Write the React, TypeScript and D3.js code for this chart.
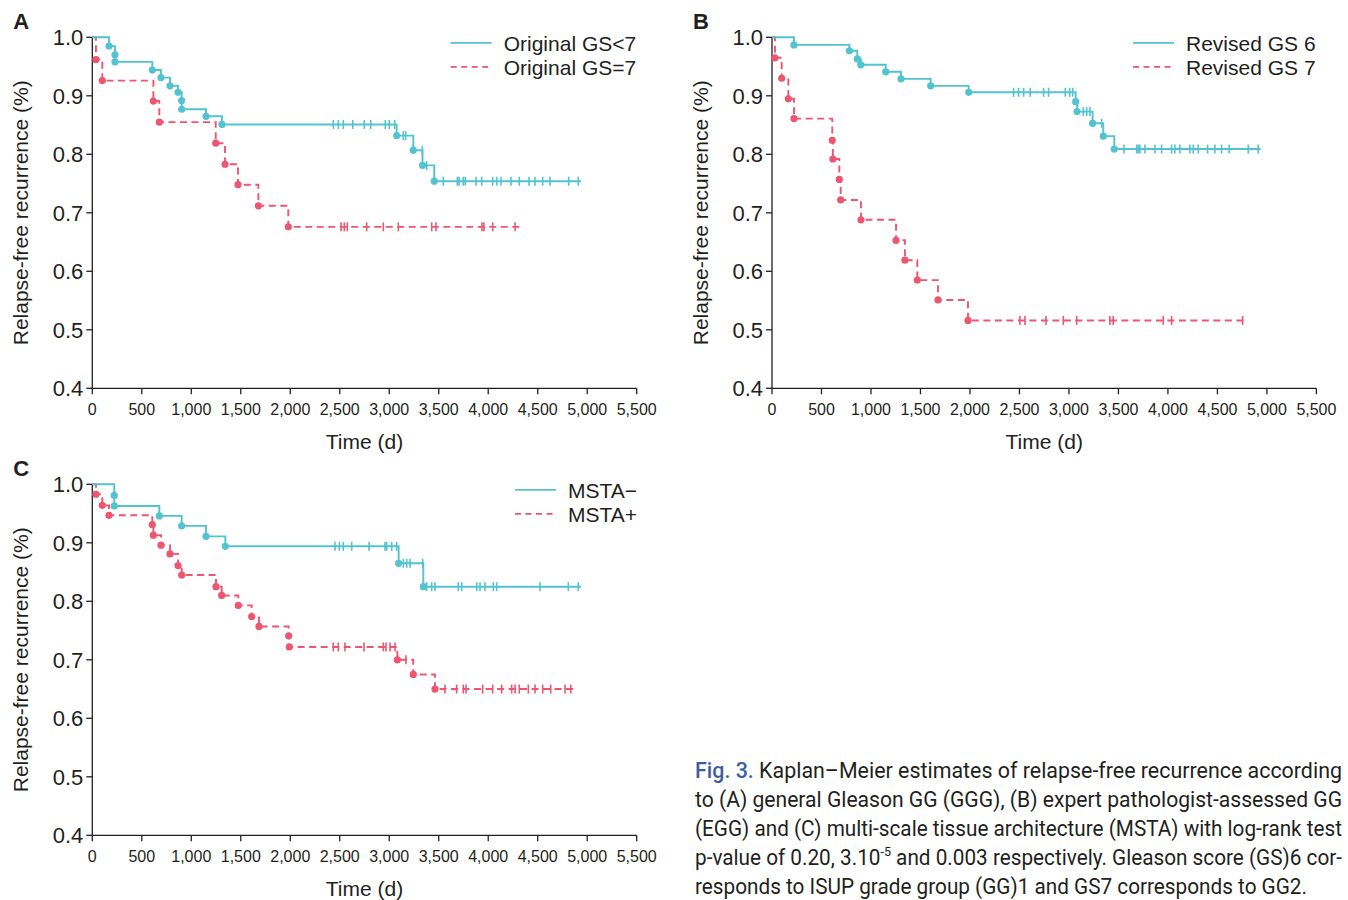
import React from "react";
import * as d3 from "d3";

// ---------- data ----------
const X_TICKS = [0, 500, 1000, 1500, 2000, 2500, 3000, 3500, 4000, 4500, 5000, 5500];
const Y_TICKS = [0.4, 0.5, 0.6, 0.7, 0.8, 0.9, 1.0];

// Panel A
const A_TEAL_EVENT_T = [169, 229, 229, 606, 694, 785, 866, 903, 903, 1149, 1310, 3075, 3243, 3336, 3455];
const A_TEAL_EVENT_S = [0.985, 0.970, 0.958, 0.944, 0.931, 0.917, 0.906, 0.892, 0.877, 0.865, 0.851, 0.832, 0.807, 0.781, 0.754];
const A_TEAL_CENSOR = [2435, 2485, 2536, 2631, 2748, 2813, 2960, 3000, 3055, 3142, 3166, 3334, 3378, 3546, 3688, 3705, 3748, 3768, 3877, 3934, 4045, 4086, 4129, 4230, 4314, 4412, 4472, 4550, 4624, 4813, 4910];
const A_TEAL_END = 4937;
const A_RED_EVENT_T = [37, 101, 617, 677, 1247, 1341, 1472, 1678, 1980];
const A_RED_EVENT_S = [0.962, 0.926, 0.891, 0.855, 0.819, 0.783, 0.748, 0.712, 0.676];
const A_RED_CENSOR = [2513, 2546, 2576, 2772, 2940, 3092, 3429, 3472, 3937, 3957, 4045, 4271];
const A_RED_END = 4314;
const A_LEGEND = ["Original GS<7", "Original GS=7"];

// Panel B
const B_TEAL_EVENT_T = [222, 782, 862, 897, 1149, 1303, 1603, 1987, 3068, 3082, 3239, 3347, 3458];
const B_TEAL_EVENT_S = [0.987, 0.977, 0.963, 0.953, 0.941, 0.929, 0.917, 0.906, 0.890, 0.873, 0.853, 0.831, 0.809];
const B_TEAL_CENSOR = [2441, 2491, 2542, 2609, 2744, 2794, 2963, 3008, 3038, 3145, 3179, 3212, 3330, 3556, 3684, 3700, 3717, 3768, 3869, 3936, 4037, 4071, 4121, 4222, 4256, 4306, 4401, 4475, 4542, 4619, 4811, 4912];
const B_TEAL_END = 4936;
const B_RED_EVENT_T = [30, 98, 165, 222, 609, 615, 680, 694, 899, 1253, 1343, 1468, 1677, 1980];
const B_RED_EVENT_S = [0.965, 0.930, 0.895, 0.861, 0.824, 0.792, 0.757, 0.722, 0.688, 0.653, 0.619, 0.585, 0.551, 0.516];
const B_RED_CENSOR = [2505, 2556, 2768, 2943, 3078, 3414, 3447, 3953, 4037, 4755];
const B_RED_END = 4795;
const B_LEGEND = ["Revised GS 6", "Revised GS 7"];

// Panel C
const C_TEAL_EVENT_T = [222, 222, 677, 903, 1149, 1344, 3095, 3344];
const C_TEAL_EVENT_S = [0.981, 0.963, 0.946, 0.929, 0.911, 0.894, 0.865, 0.825];
const C_TEAL_CENSOR = [2452, 2496, 2536, 2621, 2796, 2957, 2974, 3025, 3075, 3142, 3176, 3210, 3338, 3378, 3429, 3462, 3698, 3732, 3884, 3917, 3967, 4051, 4085, 4523, 4809, 4910];
const C_TEAL_END = 4937;
const C_RED_EVENT_T = [37, 101, 169, 606, 617, 694, 785, 866, 903, 1250, 1307, 1475, 1610, 1684, 1984, 1990, 3082, 3243, 3462];
const C_RED_EVENT_S = [0.983, 0.964, 0.947, 0.931, 0.913, 0.896, 0.881, 0.861, 0.845, 0.825, 0.810, 0.793, 0.774, 0.757, 0.741, 0.722, 0.700, 0.675, 0.650];
const C_RED_CENSOR = [2435, 2485, 2553, 2745, 2940, 2967, 3008, 3058, 3169, 3563, 3681, 3748, 3776, 3944, 4045, 4136, 4237, 4271, 4314, 4405, 4473, 4550, 4631, 4776, 4834];
const C_RED_END = 4860;
const C_LEGEND = ["MSTA\u2212", "MSTA+"];

const CAPTION_LINES = [
  "Kaplan\u2013Meier estimates of relapse-free recurrence according",
  "to (A) general Gleason GG (GGG), (B) expert pathologist-assessed GG",
  "(EGG) and (C) multi-scale tissue architecture (MSTA) with log-rank test",
  "p-value of 0.20, 3.10",
  "responds to ISUP grade group (GG)1 and GS7 corresponds to GG2.",
];

// ---------- style ----------
const TEAL = "#52c3cf";
const RED = "#ec5670";
const INK = "#231f20";
const FONT = "'Liberation Sans', Arial, Helvetica, sans-serif";
const PW = 544.4;
const PH = 351;
const DASH = "7,4.5";

type Series = { t: number[]; s: number[]; censor: number[]; end: number; color: string; dashed: boolean };

function survAt(ser: Series, time: number) {
  let v = 1;
  for (let i = 0; i < ser.t.length; i++) if (ser.t[i] <= time) v = ser.s[i];
  return v;
}

function Curve({ ser, x, y }: { ser: Series; x: any; y: any }) {
  const pts: [number, number][] = [[0, 1]];
  ser.t.forEach((t, i) => pts.push([t, ser.s[i]]));
  pts.push([ser.end, ser.s[ser.s.length - 1]]);
  const line = d3
    .line<[number, number]>()
    .x((d) => x(d[0]))
    .y((d) => y(d[1]))
    .curve(d3.curveStepAfter);
  return (
    <g>
      <path
        d={line(pts) || ""}
        fill="none"
        stroke={ser.color}
        strokeWidth={1.9}
        strokeDasharray={ser.dashed ? DASH : undefined}
      />
      {ser.censor.map((c, i) => {
        const cx = x(c);
        const cy = y(survAt(ser, c));
        return <line key={"c" + i} x1={cx} x2={cx} y1={cy - 4.5} y2={cy + 4.5} stroke={ser.color} strokeWidth={1.6} />;
      })}
      {ser.t.map((t, i) => (
        <circle key={"d" + i} cx={x(t)} cy={y(ser.s[i])} r={3.6} fill={ser.color} />
      ))}
    </g>
  );
}

function Panel({
  ox,
  oy,
  letter,
  teal,
  red,
  legend,
  legendX,
}: {
  ox: number;
  oy: number;
  letter: string;
  teal: Series;
  red: Series;
  legend: string[];
  legendX: number;
}) {
  const x = d3.scaleLinear().domain([0, 5500]).range([ox, ox + PW]);
  const y = d3.scaleLinear().domain([0.4, 1]).range([oy + PH, oy]);
  const fx = d3.format(",");
  const base = y(0.4);
  return (
    <g fontFamily={FONT} fill={INK}>
      <text x={ox - 79} y={oy - 8} fontSize={22} fontWeight="bold">
        {letter}
      </text>
      {/* y axis */}
      <line x1={ox} x2={ox} y1={y(1)} y2={base} stroke={INK} strokeWidth={1.3} />
      {Y_TICKS.map((v) => (
        <g key={"y" + v}>
          <line x1={ox - 6} x2={ox} y1={y(v)} y2={y(v)} stroke={INK} strokeWidth={1.3} />
          <text x={ox - 9} y={y(v)} dy="0.36em" textAnchor="end" fontSize={22}>
            {v.toFixed(1)}
          </text>
        </g>
      ))}
      {/* x axis */}
      <line x1={x(0)} x2={x(5500)} y1={base} y2={base} stroke={INK} strokeWidth={1.3} />
      {X_TICKS.map((v) => (
        <g key={"x" + v}>
          <line x1={x(v)} x2={x(v)} y1={base} y2={base + 6} stroke={INK} strokeWidth={1.3} />
          <text x={x(v)} y={base + 15} dy="0.71em" textAnchor="middle" fontSize={16}>
            {fx(v)}
          </text>
        </g>
      ))}
      <text x={(x(0) + x(5500)) / 2} y={base + 61} textAnchor="middle" fontSize={21}>
        Time (d)
      </text>
      <text
        transform={`translate(${ox - 64},${(y(1) + base) / 2}) rotate(-90)`}
        textAnchor="middle"
        fontSize={21}
      >
        Relapse-free recurrence (%)
      </text>
      {/* legend */}
      <line x1={ox + legendX} x2={ox + legendX + 41} y1={oy + 5.5} y2={oy + 5.5} stroke={TEAL} strokeWidth={1.8} />
      <line
        x1={ox + legendX}
        x2={ox + legendX + 41}
        y1={oy + 29.5}
        y2={oy + 29.5}
        stroke={RED}
        strokeWidth={1.8}
        strokeDasharray="6,4.5"
      />
      <text x={ox + legendX + 53} y={oy + 13.5} fontSize={21}>
        {legend[0]}
      </text>
      <text x={ox + legendX + 53} y={oy + 37.5} fontSize={21}>
        {legend[1]}
      </text>
      <Curve ser={red} x={x} y={y} />
      <Curve ser={teal} x={x} y={y} />
    </g>
  );
}

function Caption() {
  const left = 695;
  const sx = 0.9;
  const full = 647 / sx;
  const last = 612 / sx;
  const base0 = 778;
  const step = 29;
  const common = {
    fontFamily: "Roboto, 'Noto Sans', sans-serif",
    fontSize: 21.5,
    fill: INK,
    lengthAdjust: "spacingAndGlyphs" as const,
  };
  const line = (i: number) => `translate(${left},${base0 + step * i}) scale(${sx},1)`;
  return (
    <g>
      <g transform={line(0)}>
        <text x={0} y={0} textLength={full} {...common}>
          <tspan fill="#3d5f9f" fontWeight={500}>Fig. 3.</tspan> {CAPTION_LINES[0]}
        </text>
      </g>
      <g transform={line(1)}>
        <text x={0} y={0} textLength={full} {...common}>
          {CAPTION_LINES[1]}
        </text>
      </g>
      <g transform={line(2)}>
        <text x={0} y={0} textLength={full} {...common}>
          {CAPTION_LINES[2]}
        </text>
      </g>
      <g transform={line(3)}>
        <text x={0} y={0} textLength={full} {...common}>
          {CAPTION_LINES[3]}
          <tspan dy={-9} fontSize={13}>-5</tspan>
          <tspan dy={9}> and 0.003 respectively. Gleason score (GS)6 cor-</tspan>
        </text>
      </g>
      <g transform={line(4)}>
        <text x={0} y={0} textLength={last} {...common}>
          {CAPTION_LINES[4]}
        </text>
      </g>
    </g>
  );
}

export default function App() {
  const mk = (t: number[], s: number[], censor: number[], end: number, color: string, dashed: boolean): Series => ({
    t,
    s,
    censor,
    end,
    color,
    dashed,
  });
  return (
    <svg
      width={1348}
      height={900}
      style={{ position: "absolute", left: 0, top: 0, display: "block", background: "#fff" }}
    >
      <Panel
        ox={92.3}
        oy={37.3}
        letter="A"
        teal={mk(A_TEAL_EVENT_T, A_TEAL_EVENT_S, A_TEAL_CENSOR, A_TEAL_END, TEAL, false)}
        red={mk(A_RED_EVENT_T, A_RED_EVENT_S, A_RED_CENSOR, A_RED_END, RED, true)}
        legend={A_LEGEND}
        legendX={358.4}
      />
      <Panel
        ox={772}
        oy={37.3}
        letter="B"
        teal={mk(B_TEAL_EVENT_T, B_TEAL_EVENT_S, B_TEAL_CENSOR, B_TEAL_END, TEAL, false)}
        red={mk(B_RED_EVENT_T, B_RED_EVENT_S, B_RED_CENSOR, B_RED_END, RED, true)}
        legend={B_LEGEND}
        legendX={361}
      />
      <Panel
        ox={92.3}
        oy={484.3}
        letter="C"
        teal={mk(C_TEAL_EVENT_T, C_TEAL_EVENT_S, C_TEAL_CENSOR, C_TEAL_END, TEAL, false)}
        red={mk(C_RED_EVENT_T, C_RED_EVENT_S, C_RED_CENSOR, C_RED_END, RED, true)}
        legend={C_LEGEND}
        legendX={422.7}
      />
      <Caption />
    </svg>
  );
}
